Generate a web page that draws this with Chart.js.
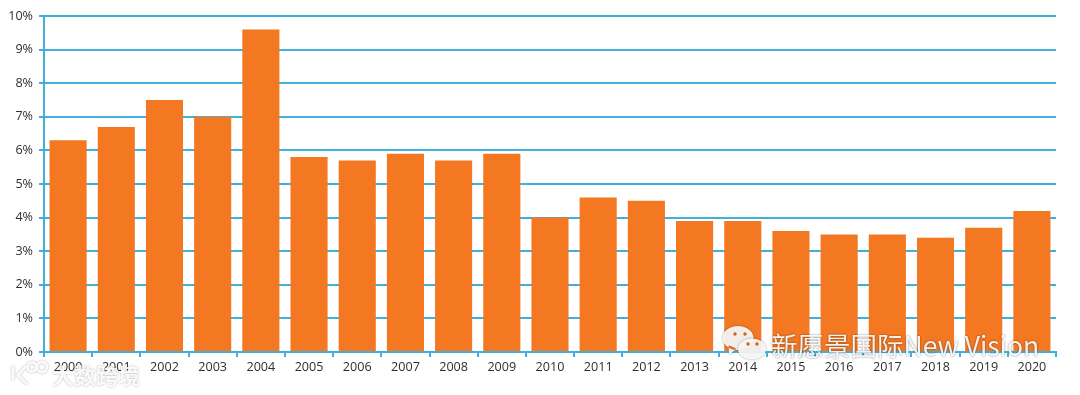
<!DOCTYPE html>
<html lang="en">
  <head>
    <meta charset="utf-8" />
    <title>Bar chart 2000-2020</title>
    <style>
      * {
        margin: 0;
        padding: 0;
      }
      html, body {
        background: #fff;
        overflow: hidden;
      }
      .chartBox {
        position: relative;
        width: 1080px;
        height: 395px;
      }
    </style>
  </head>
  <body>
    <div class="chartBox">
      <canvas id="myChart"></canvas>
    </div>

    <script src="https://cdn.jsdelivr.net/npm/chart.js"></script>

    <script>
      const years = ["2000", "2001", "2002", "2003", "2004", "2005", "2006", "2007", "2008", "2009", "2010",
        "2011", "2012", "2013", "2014", "2015", "2016", "2017", "2018", "2019", "2020"];
      const shares = [6.3, 6.7, 7.5, 7.0, 9.6, 5.8, 5.7, 5.9, 5.7, 5.9, 4.0,
        4.6, 4.5, 3.9, 3.9, 3.6, 3.5, 3.5, 3.4, 3.7, 4.2];

      const watermarkMain = "新愿景国际New Vision";
      const watermarkLeft = "大数跨境";

      const axisBlue = "#3fb0dc";

      // the two watermarks sit on top of everything
      const watermarks = {
        id: "watermarks",
        afterDraw(chart) {
          const { ctx } = chart;
          ctx.save();

          // wechat bubbles
          const bubble = (x, y, rx, ry, tailX, tailY) => {
            ctx.beginPath();
            ctx.ellipse(x, y, rx, ry, 0, 0, Math.PI * 2);
            ctx.moveTo(x - rx * 0.6, y + ry * 0.6);
            ctx.lineTo(tailX, tailY);
            ctx.lineTo(x - rx * 0.1, y + ry * 0.9);
            ctx.fillStyle = "rgba(255,255,255,0.9)";
            ctx.shadowColor = "rgba(0,0,0,0.45)";
            ctx.shadowBlur = 2;
            ctx.fill();
            ctx.shadowBlur = 0;
          };
          const eyes = (x1, x2, y) => {
            ctx.fillStyle = "#c9651f";
            [x1, x2].forEach((x) => {
              ctx.beginPath();
              ctx.arc(x, y, 1.7, 0, Math.PI * 2);
              ctx.fill();
            });
          };
          bubble(738, 338, 15.5, 12, 729, 355);
          eyes(735, 745, 334);
          bubble(752, 349, 14, 10.5, 762, 363);
          eyes(748, 757, 344);

          // text
          ctx.textBaseline = "alphabetic";
          ctx.textAlign = "left";
          ctx.shadowColor = "rgba(0,0,0,0.6)";
          ctx.shadowBlur = 2;
          ctx.fillStyle = "rgba(255,255,255,0.92)";
          ctx.font = '26.5px "Noto Sans CJK SC", "Open Sans", sans-serif';
          ctx.fillText(watermarkMain, 771, 356);

          ctx.shadowColor = "rgba(0,0,0,0.35)";
          ctx.fillStyle = "rgba(255,255,255,0.92)";
          ctx.font = 'bold 22px "Noto Sans CJK SC", sans-serif';
          ctx.fillText(watermarkLeft, 52, 384);

          // small logo next to it
          ctx.strokeStyle = "rgba(255,255,255,0.92)";
          ctx.lineWidth = 3;
          ctx.beginPath();
          ctx.arc(32, 367, 4.5, 0, Math.PI * 2);
          ctx.moveTo(47, 367);
          ctx.arc(42, 367, 5, 0, Math.PI * 2);
          ctx.moveTo(13, 366);
          ctx.lineTo(13, 380);
          ctx.moveTo(26, 366);
          ctx.lineTo(18, 375);
          ctx.lineTo(27, 384);
          ctx.stroke();
          ctx.restore();
        },
      };

      const config = {
        type: "bar",
        data: {
          labels: years,
          datasets: [
            {
              data: shares,
              backgroundColor: "#f47721",
              barPercentage: 0.77,
              categoryPercentage: 1,
            },
          ],
        },
        options: {
          responsive: true,
          maintainAspectRatio: false,
          animation: false,
          layout: {
            padding: { top: 16, right: 24, bottom: 0, left: 0 },
          },
          plugins: {
            legend: { display: false },
            tooltip: { enabled: false },
          },
          scales: {
            x: {
              afterFit(scale) {
                scale.height = 43;
              },
              grid: {
                color: axisBlue,
                lineWidth: 2,
                drawOnChartArea: false,
                tickLength: 5,
              },
              border: { color: axisBlue, width: 2 },
              ticks: {
                color: "#2f2f2f",
                font: { family: '"Open Sans", sans-serif', size: 12.6 },
                padding: 3,
                maxRotation: 0,
                autoSkip: false,
              },
            },
            y: {
              min: 0,
              max: 10,
              afterFit(scale) {
                scale.width = 44;
              },
              grid: {
                color: axisBlue,
                lineWidth: 2,
                tickLength: 5,
              },
              border: { color: axisBlue, width: 2 },
              ticks: {
                stepSize: 1,
                color: "#2f2f2f",
                font: { family: '"Open Sans", sans-serif', size: 12.6 },
                padding: 6,
                callback: (v) => v + "%",
              },
            },
          },
        },
        plugins: [watermarks],
      };

      const myChart = new Chart(document.getElementById("myChart"), config);
    </script>
  </body>
</html>
